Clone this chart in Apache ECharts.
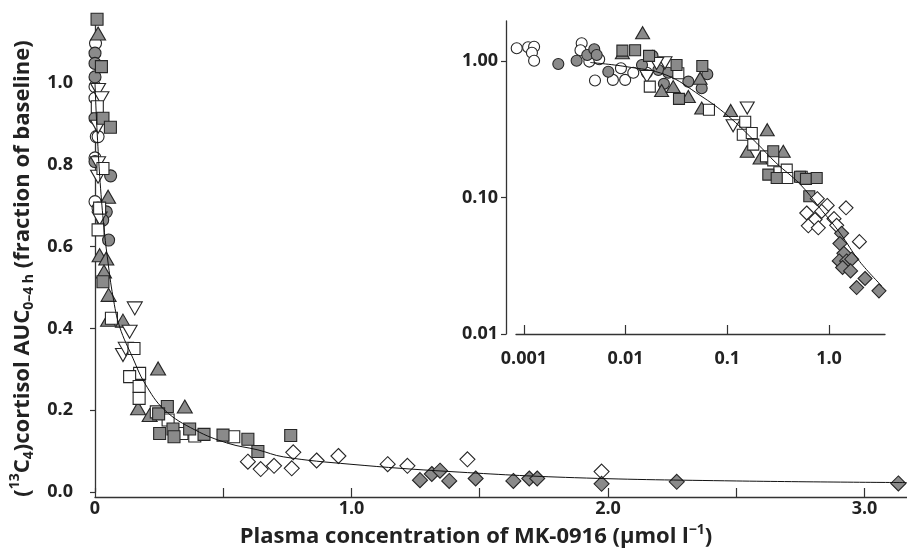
<!DOCTYPE html>
<html>
<head>
<meta charset="utf-8">
<script src="https://cdn.jsdelivr.net/npm/echarts@6/dist/echarts.min.js"></script>
<style>
  html, body { margin: 0; padding: 0; background: #fff; }
  #main { width: 907px; height: 556px; }
</style>
</head>
<body>
<div id="main"></div>
<script>
// ---- main panel: [concentration, fraction of baseline] ----
var mainOpenCircle = [[0.002,1.097],[0.0,0.991],[0.0,0.963],[0.005,0.869],[0.012,0.869],[0.0,0.817],[0.0,0.71],[0.012,0.694]];
var mainGreyCircle = [[0.0,1.073],[0.0,1.048],[0.0,1.015],[0.0,0.914],[0.061,0.773],[0.0,0.808],[0.044,0.685],[0.03,0.665],[0.053,0.616]];
var mainGreyTri = [[0.012,1.121],[0.051,0.722],[0.018,0.579],[0.044,0.571],[0.035,0.539],[0.053,0.482],[0.051,0.421],[0.109,0.419],[0.246,0.302],[0.168,0.205],[0.35,0.209],[0.213,0.188]];
var mainOpenInvTri = [[0.012,0.983],[0.025,0.963],[0.012,0.893],[0.012,0.804],[0.012,0.771],[0.018,0.669],[0.155,0.449],[0.135,0.392],[0.109,0.335],[0.12,0.35]];
var mainOpenSquare = [[0.009,0.942],[0.031,0.791],[0.018,0.694],[0.012,0.641],[0.064,0.425],[0.152,0.351],[0.174,0.29],[0.135,0.282],[0.172,0.258],[0.172,0.229],[0.239,0.196],[0.285,0.176],[0.339,0.143],[0.389,0.137],[0.541,0.135]];
var mainGreySquare = [[0.008,1.156],[0.025,1.04],[0.031,0.914],[0.06,0.892],[0.031,0.514],[0.282,0.209],[0.248,0.191],[0.252,0.143],[0.304,0.154],[0.308,0.135],[0.369,0.154],[0.425,0.141],[0.499,0.139],[0.596,0.129],[0.635,0.099],[0.763,0.138]];
var mainOpenDiamond = [[0.596,0.074],[0.646,0.056],[0.698,0.064],[0.773,0.097],[0.767,0.058],[0.864,0.077],[0.949,0.088],[1.141,0.068],[1.218,0.064],[1.452,0.08],[1.975,0.05]];
var mainGreyDiamond = [[1.267,0.029],[1.313,0.044],[1.345,0.052],[1.381,0.027],[1.484,0.033],[1.631,0.027],[1.693,0.033],[1.724,0.033],[1.975,0.02],[2.268,0.025],[3.132,0.021]];
var mainFitC = [0, 0.002, 0.005, 0.01, 0.02, 0.035, 0.05, 0.07, 0.096, 0.148, 0.194, 0.272, 0.389, 0.519, 0.635, 0.734, 0.994, 1.384, 1.87, 2.5, 3.165];
var mainFitV = [1.0, 0.966, 0.922, 0.86, 0.757, 0.646, 0.565, 0.478, 0.404, 0.327, 0.266, 0.2, 0.152, 0.119, 0.103, 0.086, 0.068, 0.05, 0.035, 0.027, 0.023];

// ---- inset (log-log) ----
var insetOpenCircle = [[0.00085,1.24],[0.0011,1.26],[0.00126,1.27],[0.0012,1.15],[0.00126,1.005],[0.0037,1.35],[0.0036,1.2],[0.0044,0.99],[0.0055,1.03],[0.005,0.72],[0.0075,0.727],[0.0099,0.727],[0.0119,0.82],[0.009,0.885],[0.0162,0.82]];
var insetGreyCircle = [[0.00218,0.95],[0.0033,1.005],[0.0042,1.106],[0.00492,1.22],[0.0052,1.106],[0.00676,0.835],[0.0145,0.935],[0.0184,1.09],[0.021,0.86],[0.0263,0.82],[0.0238,0.68],[0.0414,0.706],[0.0636,0.8],[0.056,0.632]];
var insetGreyTri = [[0.0093,1.15],[0.0147,1.61],[0.0226,0.607],[0.0294,0.649],[0.0414,0.55],[0.054,0.748],[0.056,0.452],[0.108,0.434],[0.247,0.314],[0.157,0.218],[0.21,0.195],[0.355,0.218]];
var insetOpenInvTri = [[0.0162,0.77],[0.0244,0.97],[0.0202,0.96],[0.157,0.452],[0.114,0.335]];
var insetOpenSquare = [[0.0173,0.649],[0.033,0.813],[0.066,0.439],[0.15,0.359],[0.142,0.288],[0.174,0.297],[0.18,0.244],[0.24,0.2],[0.283,0.187],[0.325,0.153],[0.384,0.16],[0.389,0.139],[0.539,0.142]];
var insetGreySquare = [[0.0093,1.19],[0.0124,1.2],[0.017,1.09],[0.0317,0.935],[0.0335,0.528],[0.0568,0.919],[0.283,0.218],[0.253,0.147],[0.306,0.139],[0.519,0.142],[0.594,0.137],[0.757,0.139],[0.64,0.102]];
var insetOpenDiamond = [[0.767,0.098],[0.96,0.0875],[1.47,0.084],[0.604,0.077],[0.847,0.079],[0.729,0.069],[0.626,0.062],[0.785,0.06],[1.12,0.07],[1.19,0.0625],[1.99,0.0475]];
var insetGreyDiamond = [[1.33,0.0546],[1.28,0.046],[1.4,0.039],[1.26,0.0343],[1.49,0.0343],[1.67,0.0353],[1.36,0.0307],[1.63,0.029],[2.26,0.0255],[1.87,0.0219],[3.1,0.0207]];
var insetFitC = [0.0045, 0.01, 0.025, 0.054, 0.1, 0.195, 0.3, 0.52, 0.8, 1.28, 2.0, 3.3];
var insetFitV = [0.975, 0.91, 0.79, 0.56, 0.4, 0.25, 0.18, 0.125, 0.085, 0.055, 0.034, 0.0225];

// tick labels
var mainXTicks = [0, 0.5, 1, 1.5, 2, 2.5, 3];
var mainXLabels = [0, 1, 2, 3];
var mainYTicks = [0, 0.2, 0.4, 0.6, 0.8, 1.0];
var insetXTicks = [0.001, 0.01, 0.1, 1];
var insetYTicks = [0.01, 0.1, 1];

var FONT = '"Open Sans"';
var GREY = '#8a8a8a';
var EDGE = '#262626';
var AXIS = '#333';

function curve(cs, vs) { return cs.map(function (c, i) { return [c, vs[i]]; }); }

function scatter(data, symbol, fill, size, rot, panel) {
    return {
        type: 'scatter',
        xAxisIndex: panel, yAxisIndex: panel,
        data: data,
        symbol: symbol,
        symbolSize: size,
        symbolRotate: rot || 0,
        itemStyle: { color: fill, borderColor: EDGE, borderWidth: 1.1, opacity: 1 },
        z: 2,
        silent: true
    };
}

var labelStyle = { fontFamily: FONT, fontWeight: 'bold', fontSize: 18, color: '#222' };
var supStyle = { fontFamily: FONT, fontWeight: 'bold', fontSize: 14, lineHeight: 14, verticalAlign: 'top', color: '#222' };
var subStyle = { fontFamily: FONT, fontWeight: 'bold', fontSize: 14, lineHeight: 14, verticalAlign: 'bottom', color: '#222' };

var chart = echarts.init(document.getElementById('main'));
var option = {
    animation: false,
    backgroundColor: '#fff',
    grid: [
        { left: 81, top: 15, width: 826, height: 477 },
        { left: 95, top: 15, width: 812, height: 487 },
        { left: 506, top: 21, width: 379, height: 313 },
        { left: 516, top: 21, width: 369, height: 313 }
    ],
    xAxis: [
        { gridIndex: 0, type: 'value', min: -0.0546, max: 3.1657, show: false },
        {
            gridIndex: 1, type: 'value', min: 0, max: 3.1657,
            axisLine: { lineStyle: { color: AXIS, width: 1.3 } },
            axisTick: { inside: true, length: 9, lineStyle: { color: AXIS, width: 1.2 }, customValues: mainXTicks },
            axisLabel: Object.assign({}, labelStyle, {
                margin: 3, customValues: mainXLabels,
                formatter: function (v) { return v === 0 ? '0' : v.toFixed(1); }
            }),
            splitLine: { show: false },
            name: 'Plasma concentration of MK-0916 (\u03bcmol l{sup|\u22121})',
            nameLocation: 'middle', nameGap: 26,
            nameTextStyle: {
                fontFamily: FONT, fontWeight: 'bold', fontSize: 22, color: '#222', lineHeight: 28,
                padding: [0, 50, 0, 0],
                rich: { sup: supStyle }
            }
        },
        { gridIndex: 2, type: 'log', min: 0.000667, max: 3.553, show: false },
        {
            gridIndex: 3, type: 'log', min: 0.000836, max: 3.553,
            axisLine: { lineStyle: { color: AXIS, width: 1.3 } },
            axisTick: { inside: true, length: 9, lineStyle: { color: AXIS, width: 1.2 }, customValues: insetXTicks },
            axisLabel: Object.assign({}, labelStyle, {
                margin: 16, customValues: insetXTicks,
                formatter: function (v) { return v >= 1 ? v.toFixed(1) : String(+v.toPrecision(1)); }
            }),
            splitLine: { show: false }, minorTick: { show: false }
        }
    ],
    yAxis: [
        {
            gridIndex: 0, type: 'value', min: 0, max: 1.1663,
            axisLine: { show: true, lineStyle: { color: AXIS, width: 1.3 } },
            axisTick: { show: true, length: 5, lineStyle: { color: AXIS, width: 1.2 }, customValues: mainYTicks },
            axisLabel: Object.assign({}, labelStyle, {
                margin: 8, customValues: mainYTicks,
                formatter: function (v) { return v.toFixed(1); }
            }),
            splitLine: { show: false },
            name: '({sup|13}C{sub|4})cortisol AUC{sub|0\u20134 h} (fraction of baseline)',
            nameLocation: 'middle', nameGap: 44,
            nameTextStyle: {
                fontFamily: FONT, fontWeight: 'bold', fontSize: 22, color: '#222', lineHeight: 28,
                padding: [0, 30, 0, 0],
                rich: { sup: supStyle, sub: subStyle }
            }
        },
        { gridIndex: 1, type: 'value', min: 0, max: 1, show: false },
        {
            gridIndex: 2, type: 'log', min: 0.01, max: 1.963,
            axisLine: { show: true, lineStyle: { color: AXIS, width: 1.3 } },
            axisTick: { show: true, length: 5, lineStyle: { color: AXIS, width: 1.2 }, customValues: insetYTicks },
            axisLabel: Object.assign({}, labelStyle, {
                margin: 8, customValues: insetYTicks,
                formatter: function (v) { return v.toFixed(2); }
            }),
            splitLine: { show: false }, minorTick: { show: false }
        },
        { gridIndex: 3, type: 'log', min: 0.01, max: 1.963, show: false }
    ],
    series: [
        scatter(mainOpenCircle, 'circle', '#fff', 12, 0, 0),
        scatter(mainGreyCircle, 'circle', GREY, 12, 0, 0),
        scatter(mainGreyTri, 'triangle', GREY, [15, 13], 0, 0),
        scatter(mainOpenInvTri, 'triangle', '#fff', [15, 13], 180, 0),
        scatter(mainOpenSquare, 'rect', '#fff', 12, 0, 0),
        scatter(mainGreySquare, 'rect', GREY, 12, 0, 0),
        scatter(mainOpenDiamond, 'diamond', '#fff', 15, 0, 0),
        scatter(mainGreyDiamond, 'diamond', GREY, 15, 0, 0),
        {
            type: 'line', xAxisIndex: 0, yAxisIndex: 0, data: curve(mainFitC, mainFitV),
            smooth: 0.4, showSymbol: false, lineStyle: { color: '#111', width: 1 }, z: 5, silent: true
        },
        scatter(insetOpenCircle, 'circle', '#fff', 11, 0, 2),
        scatter(insetGreyCircle, 'circle', GREY, 11, 0, 2),
        scatter(insetGreyTri, 'triangle', GREY, [14, 12], 0, 2),
        scatter(insetOpenInvTri, 'triangle', '#fff', [14, 12], 180, 2),
        scatter(insetOpenSquare, 'rect', '#fff', 11, 0, 2),
        scatter(insetGreySquare, 'rect', GREY, 11, 0, 2),
        scatter(insetOpenDiamond, 'diamond', '#fff', 14, 0, 2),
        scatter(insetGreyDiamond, 'diamond', GREY, 14, 0, 2),
        {
            type: 'line', xAxisIndex: 2, yAxisIndex: 2, data: curve(insetFitC, insetFitV),
            smooth: 0.4, showSymbol: false, lineStyle: { color: '#111', width: 1 }, z: 5, silent: true
        }
    ]
};
chart.setOption(option);
</script>
</body>
</html>
